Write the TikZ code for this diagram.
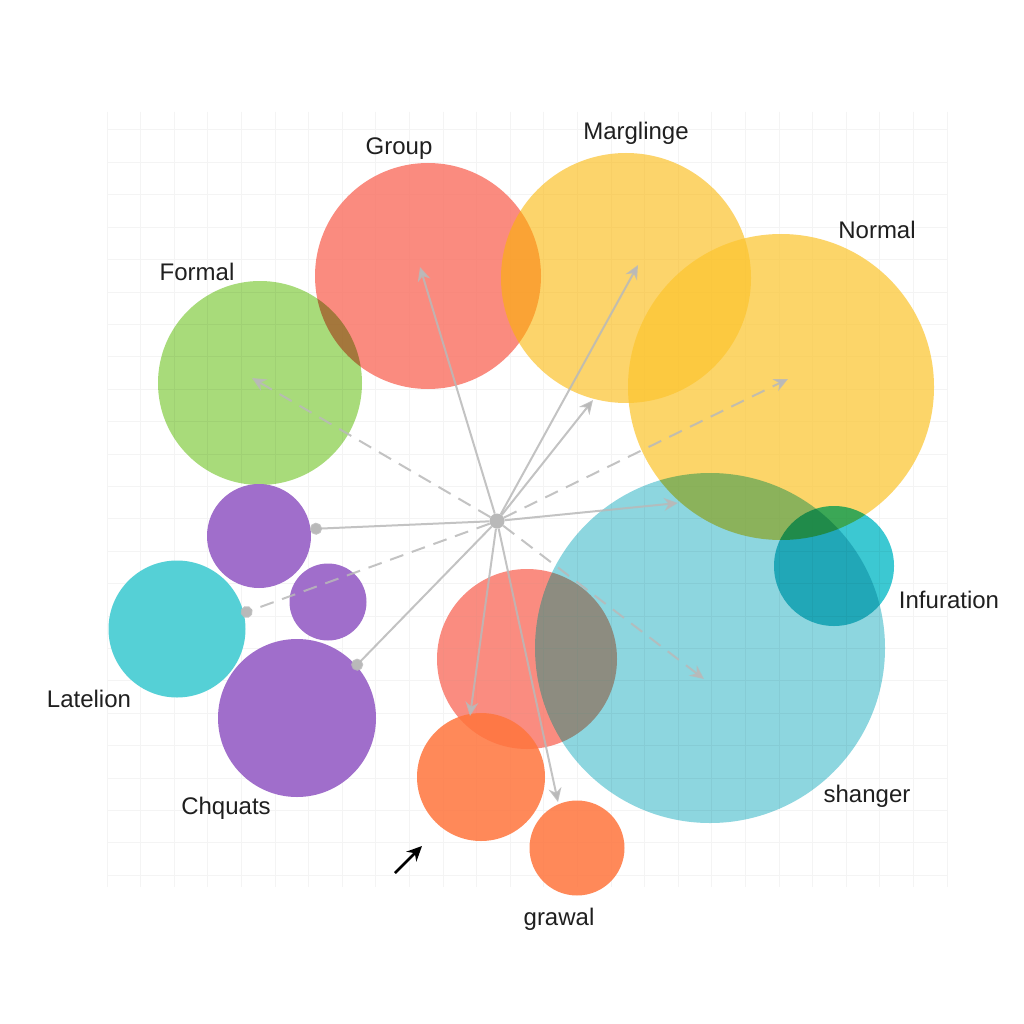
\documentclass[tikz,border=0pt]{standalone}
\usepackage{fontspec}
\setmainfont{Liberation Sans}
\usepackage{tikz}
\usetikzlibrary{arrows.meta,positioning}
\definecolor{bubred}{RGB}{250,140,128}
\definecolor{bubrose}{RGB}{249,111,96}
\definecolor{bubamber}{RGB}{251,181,0}
\definecolor{bubgold}{RGB}{252,197,48}
\definecolor{bubgreen}{RGB}{168,219,122}
\definecolor{bubsky}{RGB}{141,214,223}
\definecolor{bubteal}{RGB}{60,200,210}
\definecolor{bubaqua}{RGB}{85,208,214}
\definecolor{bubpurple}{RGB}{160,110,203}
\definecolor{buborange}{RGB}{255,117,61}
\definecolor{spokegray}{RGB}{185,185,185}
\definecolor{gridgray}{RGB}{244,244,244}
\tikzset
{
    bubble/.style   = {circle, draw=none, inner sep=0pt},
    hubnode/.style  = {circle, fill=spokegray, inner sep=0pt, minimum size=15pt},
    tag/.style      = {font=\fontsize{24}{28}\selectfont, text=black!88},
    spoke/.style    = {draw=spokegray, line width=2pt, draw opacity=0.85, -{Stealth[length=14pt,width=13pt]}},
    spokedot/.style = {draw=spokegray, line width=2pt, draw opacity=0.85, -{Circle[length=12pt]}},
    dashes/.style   = {dash pattern=on 14pt off 9pt},
    gridline/.style = {draw=gridgray, line width=1pt}
}

\begin{document}
\begin{tikzpicture}[x=1pt, y=-1pt]
    \useasboundingbox (0,0) rectangle (1024,1024);
    \fill[white] (0,0) rectangle (1024,1024);
    \foreach \gx in {0,...,25}
        \draw[gridline] ({107+33.6*\gx},112) -- ({107+33.6*\gx},887);
    \foreach \gy in {0,...,23}
        \draw[gridline] (107,{130+32.4*\gy}) -- (947,{130+32.4*\gy});

    \node [bubble, fill=bubrose, fill opacity=0.8, minimum size=226pt] (group) at (428,276) {};
    \node [bubble, fill=bubamber, fill opacity=0.58, minimum size=250pt] (marglinge) at (626,278) {};
    \node [bubble, fill=bubgold, fill opacity=0.72, minimum size=306pt] (normal) at (781,387) {};
    \begin{scope}[blend mode=multiply]
        \node [bubble, fill=bubgreen, minimum size=204pt] (formal) at (260,383) {};
        \node [bubble, fill=bubsky, minimum size=350pt] (shanger) at (710,648) {};
        \node [bubble, fill=bubteal, minimum size=120pt] (infuration) at (834,566) {};
    \end{scope}
    \node [bubble, fill=bubpurple, minimum size=104pt] (purpletop) at (259,536) {};
    \node [bubble, fill=bubpurple, minimum size=77pt] (purplemid) at (328,602) {};
    \node [bubble, fill=bubaqua, minimum size=137pt] (latelion) at (177,629) {};
    \node [bubble, fill=bubpurple, minimum size=158pt] (chquats) at (297,718) {};
    \begin{scope}[blend mode=darken]
        \node [bubble, fill=bubred, minimum size=180pt] (middle) at (527,659) {};
    \end{scope}
    \node [bubble, fill=buborange, fill opacity=0.85, minimum size=128pt] (grawalbig) at (481,777) {};
    \node [bubble, fill=buborange, fill opacity=0.85, minimum size=95pt] (grawal) at (577,848) {};

    \node [tag] (lgroup) at (399,149) {Group};
    \node [tag] (lmarglinge) at (636,133) {Marglinge};
    \node [tag] (lnormal) at (877,230) {Normal};
    \node [tag] (lformal) at (197,272) {Formal};
    \node [tag] (linfuration) at (949,600) {Infuration};
    \node [tag] (llatelion) at (89,699) {Latelion};
    \node [tag] (lchquats) at (226,808) {Chquats};
    \node [tag] (lshanger) at (867,796) {shanger};
    \node [tag] (lgrawal) at (559,919) {grawal};

    \node [hubnode] (hub) at (497,521) {};
    \coordinate (toGroup) at (420,267);
    \coordinate (toMarg) at (638,265);
    \coordinate (toMargEdge) at (593,400);
    \coordinate (toFormal) at (252,378);
    \coordinate (toNormal) at (788,379);
    \coordinate (toSky) at (678,503);
    \coordinate (toPurpleTop) at (310,529);
    \coordinate (toAqua) at (241,614);
    \coordinate (toChquats) at (353,669);
    \coordinate (toOrange) at (470,716);
    \coordinate (toGrawal) at (558,802);
    \coordinate (toShanger) at (704,679);

    \draw [spoke] (hub) -- (toGroup);
    \draw [spoke] (hub) -- (toMarg);
    \draw [spoke] (hub) -- (toMargEdge);
    \draw [spoke, dashes] (hub) -- (toFormal);
    \draw [spoke, dashes] (hub) -- (toNormal);
    \draw [spoke] (hub) -- (toSky);
    \draw [spokedot] (hub) -- (toPurpleTop);
    \draw [spokedot, dashes] (hub) -- (toAqua);
    \draw [spokedot] (hub) -- (toChquats);
    \draw [spoke] (hub) -- (toOrange);
    \draw [spoke] (hub) -- (toGrawal);
    \draw [spoke, dashes] (hub) -- (toShanger);

    \coordinate (ptrTail) at (395,873);
    \coordinate (ptrHead) at (422,846);
    \draw [line width=2.5pt, -{Stealth[length=15pt,width=14pt]}] (ptrTail) -- (ptrHead);
\end{tikzpicture}
\end{document}
